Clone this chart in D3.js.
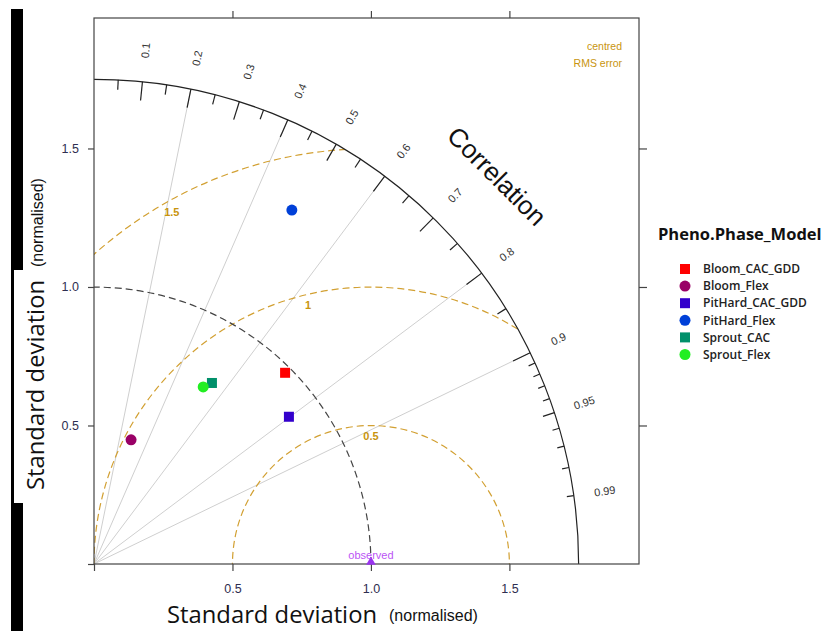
<!DOCTYPE html>
<html>
<head>
<meta charset="utf-8">
<script src="https://cdn.jsdelivr.net/npm/d3@7"></script>
<style>
  body { margin: 0; background: #fff; }
  svg { display: block; }
</style>
</head>
<body>
<svg width="829" height="631"></svg>
<script>
// Taylor diagram data (sd normalised by observed sd, correlation with observed)
const models = ['Bloom_CAC_GDD', 'Bloom_Flex', 'PitHard_CAC_GDD', 'PitHard_Flex', 'Sprout_CAC', 'Sprout_Flex'];
const sdNorm = [0.976, 0.468, 0.882, 1.464, 0.780, 0.751];
const corr = [0.707, 0.286, 0.798, 0.488, 0.546, 0.525];
const colors = ['#ff0000', '#990066', '#3300cc', '#0040d8', '#00906a', '#22ee22'];
const shapes = ['square', 'circle', 'square', 'circle', 'square', 'circle'];

const sdTicks = [0.5, 1.0, 1.5];
const corrLabels = [0.1, 0.2, 0.3, 0.4, 0.5, 0.6, 0.7, 0.8, 0.9, 0.95, 0.99];
const corrLines = [0.2, 0.4, 0.6, 0.8, 0.9];
const rmsLevels = [0.5, 1, 1.5];

const SD_MAX = 1.75;
const GOLD = '#d2a032', GOLD_TXT = '#c8940e';
const TICK_COL = '#2e2e50';

const svg = d3.select('svg');

// Шкалы
const x = d3.scaleLinear().domain([0, 1.968]).range([94, 639]);
const y = d3.scaleLinear().domain([0, 1.971]).range([564, 18]);
const unit = x(1) - x(0);

function polar(r, c) {
    const a = Math.acos(c);
    return [x(r * Math.cos(a)), y(r * Math.sin(a))];
}

// Чёрная полоса слева
svg.append('rect').attr('x', 11).attr('y', 9).attr('width', 12).attr('height', 622).attr('fill', '#000');
svg.append('rect').attr('x', 14).attr('y', 270).attr('width', 12).attr('height', 233).attr('fill', '#fff');

// Clip for quarter disk
svg.append('clipPath').attr('id', 'quarter')
    .append('path')
    .attr('d', () => {
        const p = d3.path();
        p.moveTo(x(0), y(0));
        p.lineTo(x(SD_MAX), y(0));
        p.arc(x(0), y(0), SD_MAX * unit, 0, -Math.PI / 2, true);
        p.closePath();
        return p.toString();
    });

// Radial correlation lines
corrLines.forEach(c => {
    const [x2, y2] = polar(SD_MAX, c);
    svg.append('line')
        .attr('x1', x(0)).attr('y1', y(0))
        .attr('x2', x2).attr('y2', y2)
        .attr('stroke', '#cfcfcf').attr('stroke-width', 1);
});

// Centred RMS error contours
const rmsG = svg.append('g').attr('clip-path', 'url(#quarter)');
rmsLevels.forEach(r => {
    rmsG.append('circle')
        .attr('cx', x(1)).attr('cy', y(0)).attr('r', r * unit)
        .attr('fill', 'none').attr('stroke', GOLD)
        .attr('stroke-width', 1.2).attr('stroke-dasharray', '7,4');
});
const rmsLabelAng = [90, 103.7, 119.5];
rmsLevels.forEach((r, i) => {
    const a = rmsLabelAng[i] * Math.PI / 180;
    svg.append('text')
        .attr('x', x(1 + (r - 0.04) * Math.cos(a)))
        .attr('y', y((r - 0.04) * Math.sin(a)))
        .attr('text-anchor', 'middle').attr('dy', '0.35em')
        .attr('font-family', 'Liberation Sans, Arial, sans-serif')
        .attr('font-size', 11).attr('font-weight', 'bold')
        .attr('fill', GOLD_TXT)
        .text(r);
});

// Observed sd arc (dashed)
svg.append('path')
    .attr('d', () => {
        const p = d3.path();
        p.moveTo(x(1), y(0));
        p.arc(x(0), y(0), unit, 0, -Math.PI / 2, true);
        return p.toString();
    })
    .attr('fill', 'none').attr('stroke', '#444')
    .attr('stroke-width', 1.2).attr('stroke-dasharray', '7,4');

// Outer arc
svg.append('path')
    .attr('d', () => {
        const p = d3.path();
        p.moveTo(x(SD_MAX), y(0));
        p.arc(x(0), y(0), SD_MAX * unit, 0, -Math.PI / 2, true);
        return p.toString();
    })
    .attr('fill', 'none').attr('stroke', '#222').attr('stroke-width', 1.2);

// Ticks on the arc
const majorT = d3.range(1, 10).map(d => d / 10);
const minorT = d3.range(0, 9).map(d => d / 10 + 0.05);
const fineT = [0.91, 0.92, 0.93, 0.94, 0.96, 0.97, 0.98, 0.99];
const arcTicks = majorT.map(c => [c, 19])
    .concat(minorT.map(c => [c, 10]))
    .concat(fineT.map(c => [c, 7]))
    .concat([[0.95, 12]]);
arcTicks.forEach(([c, len]) => {
    const [x1, y1] = polar(SD_MAX, c);
    const [x2, y2] = polar(SD_MAX - len / unit, c);
    svg.append('line')
        .attr('x1', x1).attr('y1', y1).attr('x2', x2).attr('y2', y2)
        .attr('stroke', '#222').attr('stroke-width', 1.2);
});

// Correlation labels
corrLabels.forEach(c => {
    const [lx, ly] = polar(1.863, c);
    const deg = Math.acos(c) * 180 / Math.PI;
    svg.append('text')
        .attr('transform', `translate(${lx},${ly}) rotate(${-deg})`)
        .attr('text-anchor', 'middle').attr('dy', '0.35em')
        .attr('font-family', 'Liberation Sans, Arial, sans-serif')
        .attr('font-size', 11).attr('fill', '#333')
        .text(c);
});

svg.append('text')
    .attr('transform', `translate(497,176) rotate(45)`)
    .attr('text-anchor', 'middle').attr('dy', '0.35em')
    .attr('font-family', 'Liberation Sans, Arial, sans-serif')
    .attr('font-size', 26).attr('fill', '#111')
    .text('Correlation');

// Frame and axes
svg.append('rect')
    .attr('x', x(0)).attr('y', y(1.971))
    .attr('width', x(1.968) - x(0)).attr('height', y(0) - y(1.971))
    .attr('fill', 'none').attr('stroke', '#444').attr('stroke-width', 1.2);

const fmt = d => d === 0 ? '' : d3.format('.1f')(d);
function styleAxis(g) {
    g.select('.domain').remove();
    g.selectAll('line').attr('stroke', '#444').attr('stroke-width', 1.2);
    g.selectAll('text')
        .attr('font-family', 'Liberation Sans, Arial, sans-serif')
        .attr('font-size', 12.5).attr('fill', TICK_COL);
}
svg.append('g').attr('transform', `translate(0,${y(0)})`)
    .call(d3.axisBottom(x).tickValues([0].concat(sdTicks)).tickFormat(fmt).tickSize(7).tickPadding(13))
    .call(styleAxis);
svg.append('g').attr('transform', `translate(${x(0)},0)`)
    .call(d3.axisLeft(y).tickValues([0].concat(sdTicks)).tickFormat(fmt).tickSize(6).tickPadding(9))
    .call(styleAxis);
svg.append('g').attr('transform', `translate(0,${y(1.971)})`)
    .call(d3.axisTop(x).tickValues(sdTicks).tickFormat('').tickSize(7))
    .call(styleAxis);
svg.append('g').attr('transform', `translate(${x(1.968)},0)`)
    .call(d3.axisRight(y).tickValues(sdTicks).tickFormat('').tickSize(8))
    .call(styleAxis);

// centred RMS error note
[['centred', 50], ['RMS error', 67]].forEach(([t, ty]) => {
    svg.append('text').attr('x', 622).attr('y', ty)
        .attr('text-anchor', 'end')
        .attr('font-family', 'Liberation Sans, Arial, sans-serif')
        .attr('font-size', 10.5).attr('fill', GOLD_TXT)
        .text(t);
});

// Observed point
svg.append('path')
    .attr('d', d3.symbol(d3.symbolTriangle, 40)())
    .attr('transform', `translate(${x(1)},${y(0) - 2})`)
    .attr('fill', '#9933ee');
svg.append('text').attr('x', x(1)).attr('y', y(0) - 5)
    .attr('text-anchor', 'middle')
    .attr('font-family', 'Liberation Sans, Arial, sans-serif')
    .attr('font-size', 11).attr('fill', '#bb55f5')
    .text('observed');

// Model points
function drawMark(g, shape, cx, cy, col) {
    if (shape === 'square') {
        g.append('rect').attr('x', cx - 5).attr('y', cy - 5)
            .attr('width', 10).attr('height', 10).attr('fill', col);
    } else {
        g.append('circle').attr('cx', cx).attr('cy', cy).attr('r', 5.5).attr('fill', col);
    }
}
models.forEach((m, i) => {
    const [px, py] = polar(sdNorm[i], corr[i]);
    drawMark(svg, shapes[i], px, py, colors[i]);
});

// Axis titles
svg.append('text').attr('x', 167).attr('y', 623)
    .attr('font-family', 'Open Sans, sans-serif').attr('font-size', 23.8).attr('fill', '#111')
    .text('Standard deviation');
svg.append('text').attr('x', 389).attr('y', 621)
    .attr('font-family', 'Liberation Sans, Arial, sans-serif').attr('font-size', 16).attr('fill', '#111')
    .text('(normalised)');
svg.append('text').attr('transform', 'translate(44,490) rotate(-90)')
    .attr('font-family', 'Open Sans, sans-serif').attr('font-size', 23.8).attr('fill', '#111')
    .text('Standard deviation');
svg.append('text').attr('transform', 'translate(43,267) rotate(-90)')
    .attr('font-family', 'Liberation Sans, Arial, sans-serif').attr('font-size', 16).attr('fill', '#111')
    .text('(normalised)');

// Legend
const leg = svg.append('g');
leg.append('text').attr('x', 658).attr('y', 240)
    .attr('font-family', 'Open Sans, sans-serif').attr('font-size', 16.5)
    .attr('font-weight', 'bold').attr('fill', '#111')
    .text('Pheno.Phase_Model');
models.forEach((m, i) => {
    const ry = 269 + i * 17.1;
    drawMark(leg, shapes[i], 685, ry, colors[i]);
    leg.append('text').attr('x', 703).attr('y', ry).attr('dy', '0.35em')
        .attr('font-family', 'Open Sans, sans-serif').attr('font-size', 12)
        .attr('font-weight', 600).attr('fill', '#222')
        .text(m);
});
</script>
</body>
</html>
